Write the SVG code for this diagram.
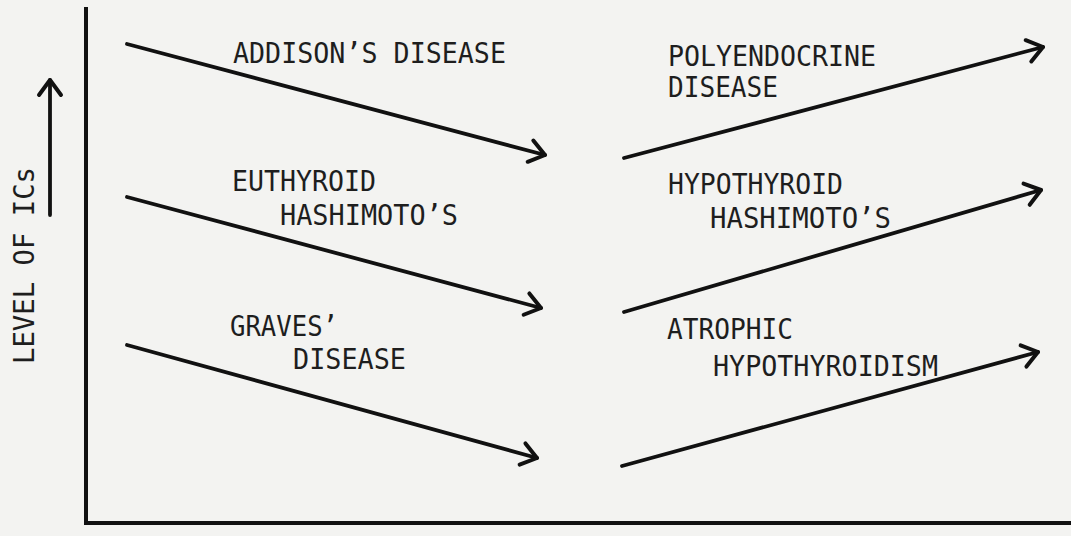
<svg xmlns="http://www.w3.org/2000/svg" width="1071" height="536" viewBox="0 0 1071 536">
<defs>
<marker id="head" markerUnits="userSpaceOnUse" viewBox="-20 -15 24 30" refX="0" refY="0" markerWidth="24" markerHeight="30" orient="auto">
<path d="M-15,-11 L0,0 L-15,11" fill="none" stroke="#111" stroke-width="4" stroke-linecap="round" stroke-linejoin="round"/>
</marker>
</defs>
<style>
.lbl{font-family:"DejaVu Sans Mono","Liberation Mono",monospace;font-size:27.5px;fill:#1e1e1e;}
.ln{stroke:#111;stroke-width:3.8;fill:none;stroke-linecap:round;}
.ax{stroke:#111;stroke-width:4;fill:none;}
</style>
<rect width="1071" height="536" fill="#f3f3f1"/>
<g id="axes">
<polyline class="ax" points="86,7 86,523 1071,523"/>
<line class="ln" x1="50" y1="215" x2="50" y2="80" marker-end="url(#head)"/>
<text class="lbl" transform="translate(34,364) rotate(-90)" textLength="197" lengthAdjust="spacingAndGlyphs">LEVEL OF ICs</text>
</g>
<g id="connectors">
<line class="ln" x1="127" y1="44" x2="545" y2="155" marker-end="url(#head)"/>
<line class="ln" x1="127" y1="197" x2="541" y2="308" marker-end="url(#head)"/>
<line class="ln" x1="127" y1="345" x2="537" y2="458" marker-end="url(#head)"/>
<line class="ln" x1="624" y1="158" x2="1043" y2="47" marker-end="url(#head)"/>
<line class="ln" x1="624" y1="312" x2="1041" y2="190" marker-end="url(#head)"/>
<line class="ln" x1="622" y1="466" x2="1038" y2="352" marker-end="url(#head)"/>
</g>
<g id="addison">
<text class="lbl" x="233" y="63" textLength="273" lengthAdjust="spacingAndGlyphs">ADDISON’S DISEASE</text>
</g>
<g id="polyendocrine">
<text class="lbl" x="668" y="66" textLength="208" lengthAdjust="spacingAndGlyphs">POLYENDOCRINE</text>
<text class="lbl" x="668" y="97" textLength="110" lengthAdjust="spacingAndGlyphs">DISEASE</text>
</g>
<g id="euthyroid">
<text class="lbl" x="232" y="191" textLength="144" lengthAdjust="spacingAndGlyphs">EUTHYROID</text>
<text class="lbl" x="280" y="225" textLength="178" lengthAdjust="spacingAndGlyphs">HASHIMOTO’S</text>
</g>
<g id="hypothyroid">
<text class="lbl" x="668" y="194" textLength="175" lengthAdjust="spacingAndGlyphs">HYPOTHYROID</text>
<text class="lbl" x="710" y="228" textLength="181" lengthAdjust="spacingAndGlyphs">HASHIMOTO’S</text>
</g>
<g id="graves">
<text class="lbl" x="230" y="336" textLength="108" lengthAdjust="spacingAndGlyphs">GRAVES’</text>
<text class="lbl" x="293" y="369" textLength="113" lengthAdjust="spacingAndGlyphs">DISEASE</text>
</g>
<g id="atrophic">
<text class="lbl" x="667" y="339" textLength="126" lengthAdjust="spacingAndGlyphs">ATROPHIC</text>
<text class="lbl" x="713" y="376" textLength="225" lengthAdjust="spacingAndGlyphs">HYPOTHYROIDISM</text>
</g>
</svg>
